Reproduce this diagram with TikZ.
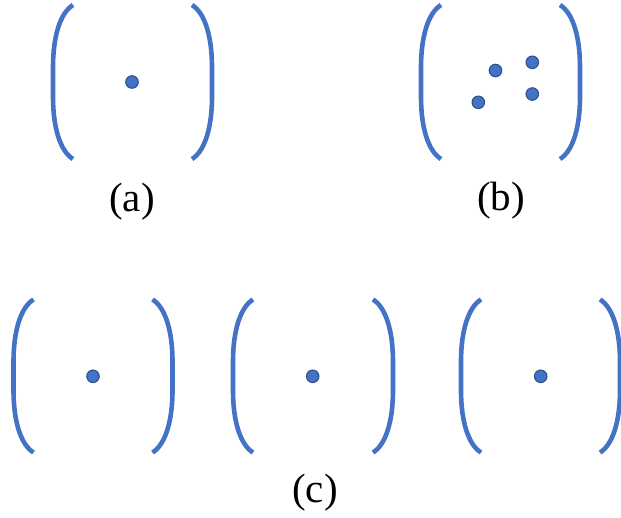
\documentclass[tikz,border=0pt]{standalone}
\usepackage{fontspec}
\setmainfont{Liberation Serif}
\definecolor{brk}{HTML}{4472C4}
\definecolor{dotline}{HTML}{2F528F}
\tikzset{
  bracket/.style={draw=brk, line width=4.6pt},
  pt/.style={circle, fill=brk, draw=dotline, line width=1.1pt, minimum size=12.5pt, inner sep=0pt},
  lbl/.style={anchor=base, font=\fontsize{41}{45}\selectfont, inner sep=0pt}
}
% bracket: top-end x, top y, bottom y
\newcommand{\lbrk}[3]{\draw[bracket] (#1,#2) .. controls ({#1-13},{#2+8}) and ({#1-20},{#2+32}) .. ({#1-20},{#2+62}) -- ({#1-20},{#3-62}) .. controls ({#1-20},{#3-32}) and ({#1-13},{#3-8}) .. (#1,#3);}
\newcommand{\rbrk}[3]{\draw[bracket] (#1,#2) .. controls ({#1+13},{#2+8}) and ({#1+20},{#2+32}) .. ({#1+20},{#2+62}) -- ({#1+20},{#3-62}) .. controls ({#1+20},{#3-32}) and ({#1+13},{#3-8}) .. (#1,#3);}
\begin{document}
\begin{tikzpicture}[x=1pt,y=-1pt]
\useasboundingbox (0,0) rectangle (621,517);
% (a)
\lbrk{73}{5}{159}
\rbrk{192}{5}{159}
\node[pt] (a1) at (132,82) {};
\node[lbl] (la) at (132,211) {(a)};
% (b)
\lbrk{441}{5}{159}
\rbrk{560}{5}{159}
\node[pt] (b1) at (495.5,70.5) {};
\node[pt] (b2) at (532.3,62.3) {};
\node[pt] (b3) at (532.3,94) {};
\node[pt] (b4) at (478.3,102.3) {};
\node[lbl] (lb) at (501,210) {(b)};
% (c)
\lbrk{33.5}{299.5}{452.5}
\rbrk{152.5}{299.5}{452.5}
\node[pt] (c1) at (93,376.3) {};
\lbrk{253}{299.5}{452.5}
\rbrk{373}{299.5}{452.5}
\node[pt] (c2) at (312.7,376.3) {};
\lbrk{481}{299.5}{452.5}
\rbrk{600}{299.5}{452.5}
\node[pt] (c3) at (540.7,376.3) {};
\node[lbl] (lc) at (315,502) {(c)};
\end{tikzpicture}
\end{document}
